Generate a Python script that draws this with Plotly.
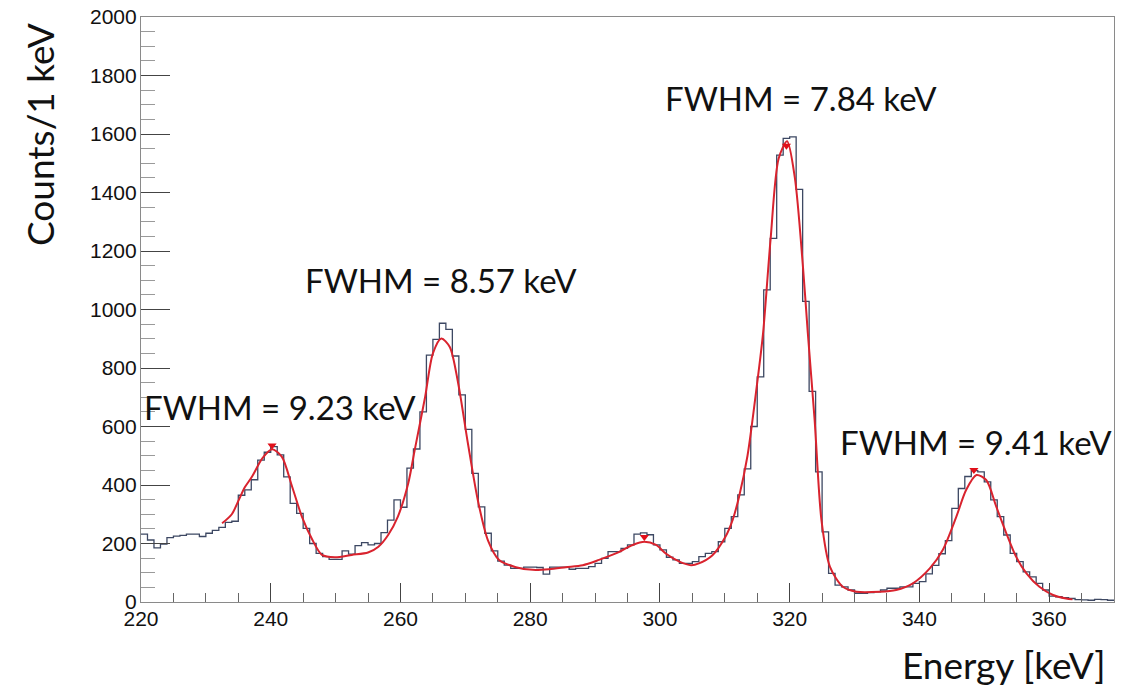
import plotly.graph_objects as go

# ---------------- data ----------------
bin_low_edges = list(range(220, 370))  # 1 keV bins, 220..369
counts = [
    232, 212, 185, 198, 220, 225, 228, 232, 232, 224,   # 220-229
    235, 245, 255, 272, 276, 365, 383, 418, 485, 512,   # 230-239
    531, 503, 428, 337, 303, 252, 200, 166, 155, 146,   # 240-249
    146, 175, 164, 193, 203, 195, 200, 237, 280, 349,   # 250-259
    324, 458, 523, 650, 844, 898, 953, 932, 841, 708,   # 260-269
    590, 440, 325, 235, 175, 140, 126, 115, 115, 119,   # 270-279
    119, 118, 95, 119, 119, 119, 112, 115, 115, 121,    # 280-289
    132, 149, 172, 172, 183, 195, 232, 236, 230, 195,   # 290-299
    178, 153, 144, 132, 132, 138, 155, 166, 172, 206,   # 300-309
    252, 292, 366, 455, 600, 770, 1067, 1243, 1528, 1585,  # 310-319
    1590, 1411, 1028, 720, 445, 240, 98, 58, 52, 41,    # 320-329
    30, 30, 32, 35, 41, 47, 47, 52, 52, 64,             # 330-339
    70, 96, 125, 165, 210, 320, 388, 429, 449, 445,     # 340-349
    411, 349, 292, 229, 166, 138, 103, 86, 64, 41,      # 350-359
    20, 18, 15, 12, 8, 7, 6, 9, 8, 6,                   # 360-369
]
bin_width = 1

fit_energy = [232.5, 234.0, 235.1, 236.0, 237.1, 238.7, 240.2, 241.7, 243.3, 244.8,
              246.3, 247.9, 249.9, 252.5, 255.0, 256.6, 258.1, 259.6, 261.2, 262.2,
              263.8, 265.0, 266.3, 267.6, 268.9, 270.4, 272.0, 273.5, 275.2, 277.8,
              280.4, 282.9, 285.5, 288.1, 290.6, 293.2, 295.8, 297.6, 299.4, 300.9,
              303.0, 304.8, 306.0, 308.1, 310.1, 311.2, 312.2, 313.5, 315.0, 315.9,
              317.05, 318.3, 319.6, 320.8, 322.05, 322.8, 323.85, 324.9, 326.2, 328.2,
              330.3, 333.9, 336.4, 339.0, 341.6, 343.6, 345.7, 347.2, 348.8, 350.3,
              351.85, 353.4, 354.9, 356.5, 358.5, 360.6, 362.6, 363.6]
fit_counts = [269, 300, 350, 392, 428, 491, 522, 497, 394, 292,
              218, 161, 153, 161, 169, 189, 229, 292, 406, 520,
              701, 850, 901, 872, 747, 542, 340, 210, 144, 119,
              110, 112, 119, 126, 144, 166, 195, 206, 195, 166,
              138, 126, 132, 160, 223, 280, 360, 500, 750, 919,
              1238, 1516, 1575, 1450, 1146, 919, 622, 280, 121, 52,
              35, 35, 41, 64, 115, 178, 292, 383, 434, 417,
              326, 235, 155, 98, 52, 24, 12, 9]

peak_energy = [240.2, 297.6, 319.5, 348.4]
peak_counts = [535, 222, 1560, 451]

fwhm_labels = ["FWHM = 9.23 keV", "FWHM = 8.57 keV", "FWHM = 7.84 keV", "FWHM = 9.41 keV"]

x_range = [220, 370]
y_range = [0, 2000]

# ---------------- figure ----------------
hist_x = bin_low_edges + [bin_low_edges[-1] + bin_width]
hist_y = counts + [counts[-1]]

fig = go.Figure()
fig.add_trace(go.Scatter(
    x=hist_x, y=hist_y, mode="lines", line_shape="hv",
    line=dict(color="#3d4863", width=1.3), hoverinfo="skip", showlegend=False))
fig.add_trace(go.Scatter(
    x=fit_energy, y=fit_counts, mode="lines", line_shape="spline",
    line=dict(color="#d9232e", width=2, smoothing=0.8), showlegend=False))
fig.add_trace(go.Scatter(
    x=peak_energy, y=peak_counts, mode="markers",
    marker=dict(symbol="triangle-down", color="#e0101a", size=8), showlegend=False))

# page offset of the figure (default body margin of the html page)
OFF = 8
W, H = 1133 - OFF, 693 - OFF
L, R, T, B = 141 - OFF, 19, 17 - OFF, 91
pw, ph = W - L - R, H - T - B

def px(xp):
    # page pixel -> paper fraction
    return (xp - OFF - L) / pw

def py(yp):
    return (H - B - (yp - OFF)) / ph

label_pos = [(142, 407), (303, 280), (663, 98), (838, 442)]
annotations = []
for text, (lx, ly) in zip(fwhm_labels, label_pos):
    annotations.append(dict(text=text, x=px(lx), y=py(ly), xref="paper", yref="paper",
                            xanchor="left", yanchor="middle", showarrow=False,
                            font=dict(family="Lato", size=33, color="#111111")))
annotations.append(dict(text="Counts/1 keV", x=px(40), y=py(135), xref="paper", yref="paper",
                        xanchor="center", yanchor="middle", textangle=-90, showarrow=False,
                        font=dict(family="Lato", size=37, color="#111111")))
annotations.append(dict(text="Energy [keV]", x=px(1107), y=py(664), xref="paper", yref="paper",
                        xanchor="right", yanchor="middle", showarrow=False,
                        font=dict(family="Lato", size=37, color="#111111")))

axis_common = dict(showgrid=False, zeroline=False, showline=True, linecolor="#8a8a8a",
                   linewidth=1.2, mirror=True, ticks="inside", tickcolor="#444444",
                   tickwidth=1.2, ticklabeloverflow="allow", automargin=False,
                   tickfont=dict(family="Liberation Sans, Arial", size=21, color="#111111"))

fig.update_layout(
    width=W, height=H,
    margin=dict(l=L, r=R, t=T, b=B, autoexpand=False),
    paper_bgcolor="white", plot_bgcolor="white",
    xaxis=dict(range=x_range, dtick=20, tick0=220, ticklen=19, ticklabelstandoff=-2,
               minor=dict(dtick=5, ticks="inside", ticklen=9, tickcolor="#666666", tickwidth=1),
               **axis_common),
    yaxis=dict(range=y_range, dtick=200, tick0=0, ticklen=29, ticklabelstandoff=-1,
               minor=dict(dtick=50, ticks="inside", ticklen=14, tickcolor="#9a9a9a", tickwidth=1),
               **axis_common),
    annotations=annotations,
    showlegend=False,
)

fig.write_html("out.html")
